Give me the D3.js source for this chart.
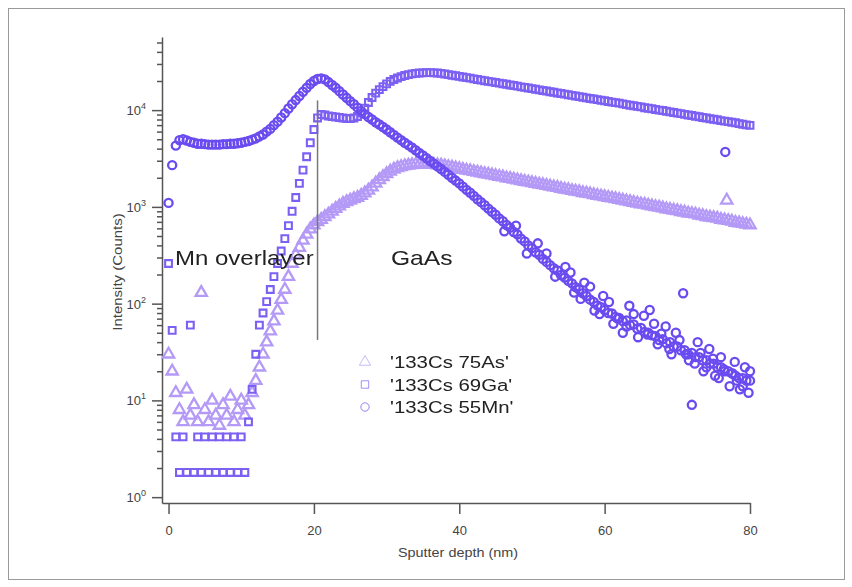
<!DOCTYPE html>
<html>
<head>
<meta charset="utf-8">
<title>SIMS depth profile</title>
<style>
  body { margin: 0; background: #fff; }
  text { font-family: "Liberation Sans", Arial, sans-serif; }
</style>
</head>
<body>
<div id="container"></div>
<script src="https://cdn.jsdelivr.net/npm/d3@7/dist/d3.min.js"></script>
<script>
//******* Data, one value every depthStep nm starting at 0 *******
var depthStep = 0.5;

var as75 = [
  30, 20, 12, 8, 6, 13, 7, 9, 6, 130,
  8, 6, 10, 7, 5.5, 9, 7, 11, 6, 8,
  10, 7, 9, 12, 16, 22, 30, 40, 52, 66,
  85, 110, 140, 190, 260, 320, 380, 450, 520, 590,
  650, 700, 740, 790, 840, 900, 960, 1020, 1080, 1130,
  1170, 1210, 1250, 1310, 1390, 1480, 1600, 1750, 1900, 2050,
  2200, 2330, 2440, 2530, 2600, 2650, 2690, 2720, 2740, 2750,
  2750, 2750, 2740, 2730, 2710, 2690, 2650, 2600, 2560, 2520,
  2480, 2430, 2390, 2360, 2310, 2280, 2240, 2200, 2170, 2130,
  2090, 2060, 2030, 1990, 1960, 1930, 1890, 1860, 1830, 1800,
  1770, 1740, 1710, 1690, 1660, 1630, 1600, 1580, 1550, 1520,
  1500, 1470, 1450, 1430, 1400, 1380, 1360, 1330, 1310, 1290,
  1270, 1250, 1230, 1210, 1190, 1170, 1150, 1130, 1110, 1090,
  1070, 1060, 1040, 1020, 1000, 990, 970, 950, 940, 920,
  910, 890, 880, 860, 850, 840, 820, 810, 790, 780,
  770, 760, 740, 730, 720, 710, 690, 680, 670, 660, 650
];

var ga69 = [
  260, 53, 4.2, 1.8, 4.2, 1.8, 60, 1.8, 4.2, 1.8,
  4.2, 1.8, 4.2, 1.8, 4.2, 1.8, 4.2, 1.8, 4.2, 1.8,
  4.2, 1.8, 6, 13, 30, 60, 80, 105, 140, 190,
  260, 350, 470, 640, 900, 1250, 1750, 2400, 3300, 4600,
  6300, 8300, 9000, 8900, 8700, 8600, 8500, 8400, 8300, 8200,
  8200, 8300, 8600, 9300, 10500, 12000, 13500, 15000, 16300, 17500,
  18700, 19800, 20700, 21500, 22200, 22800, 23300, 23700, 24000, 24200,
  24300, 24400, 24400, 24300, 24200, 24000, 23650, 23300, 22950, 22650,
  22300, 22000, 21650, 21400, 21050, 20750, 20450, 20150, 19850, 19600,
  19300, 19000, 18750, 18500, 18200, 17950, 17700, 17400, 17200, 16950,
  16700, 16450, 16200, 15950, 15750, 15500, 15300, 15050, 14850, 14650,
  14400, 14200, 14000, 13800, 13600, 13400, 13200, 13050, 12850, 12650,
  12500, 12300, 12100, 11950, 11800, 11600, 11400, 11250, 11100, 10950,
  10800, 10600, 10450, 10350, 10150, 10000, 9900, 9750, 9600, 9450,
  9300, 9200, 9050, 8900, 8800, 8650, 8550, 8400, 8300, 8150,
  8050, 7950, 7800, 7700, 7600, 7500, 7400, 7250, 7150, 7050, 6950
];

var mn55 = [
  1100, 2700, 4300, 4900, 5000, 4850, 4700, 4600, 4500, 4500,
  4450, 4400, 4400, 4400, 4400, 4450, 4450, 4500, 4500, 4550,
  4600, 4700, 4800, 4950, 5100, 5350, 5600, 6000, 6400, 7000,
  7600, 8400, 9300, 10400, 11500, 12700, 14000, 15500, 17000, 18600,
  20000, 21000, 21300, 20800, 19500, 18200, 17000, 15700, 14500, 13400,
  12400, 11500, 10600, 9800, 9100, 8500, 8000, 7500, 7100, 6700,
  6300, 5900, 5550, 5200, 4900, 4600, 4350, 4100, 3850, 3600,
  3400, 3180, 2980, 2800, 2620, 2460, 2300, 2150, 2000, 1870,
  1750, 1620, 1500, 1400, 1300, 1200, 1120, 1040, 960, 890,
  830, 760, 710, 650, 610, 550, 520, 470, 440, 400,
  375, 340, 320, 290, 270, 250, 232, 220, 198, 186,
  172, 162, 148, 140, 128, 120, 110, 104, 96, 92,
  86, 80, 79, 73, 71, 66, 67, 60, 61, 55,
  56, 51, 50, 47, 46, 42, 43, 39, 40, 36,
  36, 33, 33, 30, 31, 28, 28, 26, 26, 24,
  24, 22, 22, 20, 20, 19, 18, 17, 17, 16, 16
];

// scattered points off the main band, [depth, counts]
var as75Extra = [[76.8, 1170]];
var mn55Extra = [
  [46.2, 560], [47.8, 640], [49.3, 330], [50.8, 420], [52.0, 330], [53.2, 190],
  [54.6, 240], [55.8, 130], [57.2, 165], [58.6, 85], [59.8, 120], [61.2, 62],
  [62.5, 50], [63.4, 95], [64.6, 45], [65.4, 75], [66.2, 86], [67.3, 38],
  [68.4, 58], [69.2, 30], [69.8, 50], [70.8, 128], [71.6, 26], [72.0, 9],
  [72.8, 40], [73.6, 20], [74.4, 34], [75.2, 18], [76.0, 28], [76.6, 3700],
  [77.2, 14], [77.9, 25], [78.6, 13], [79.3, 22], [79.8, 12],
  [55.3, 210], [56.7, 112], [58.0, 150], [59.3, 78], [60.6, 104], [61.8, 70],
  [63.0, 58], [64.0, 78], [65.9, 48], [66.8, 62], [67.8, 49], [68.9, 34],
  [70.3, 42], [71.2, 30], [72.4, 24], [73.2, 31], [74.0, 22], [74.9, 27],
  [75.7, 17], [76.4, 21], [77.6, 19], [78.2, 16], [79.0, 14], [80.0, 20]
];

var seriesNames = ["'133Cs 75As'", "'133Cs 69Ga'", "'133Cs 55Mn'"];
var xTicks = [0, 20, 40, 60, 80];
var yExponents = [0, 1, 2, 3, 4];
var layerLabels = ["Mn overlayer", "GaAs"];
// interface marker: depth and the counts range it spans
var interfaceDepth = 20.5;
var interfaceRange = [42, 12600];

//******* Layout *******
var width = 852, height = 587;
var plot = { left: 162, right: 750, top: 37, bottom: 503 };
var colors = ["#b49af6", "#7c60f2", "#6a4cf0"];
var axisColor = "#555";

var svg = d3.select("#container")
  .append("svg")
  .attr("width", width)
  .attr("height", height);

// slight softening, the source figure is a blurry scan
svg.append("defs")
  .append("filter")
  .attr("id", "soft")
  .append("feGaussianBlur")
  .attr("stdDeviation", 0.45);

svg.append("rect")
  .attr("x", 8.5).attr("y", 8.5)
  .attr("width", 836).attr("height", 571)
  .attr("fill", "none")
  .attr("stroke", "#9a9a9a");

var x = d3.scaleLinear()
  .domain([-0.9, 80])
  .range([plot.left, plot.right]);
var y = d3.scaleLog()
  .domain([0.87, 57000])
  .range([plot.bottom, plot.top]);

// text in the figure is drawn a bit wider than normal
function wideText(parent, tx, ty, str, size, anchor, rot) {
  return parent.append("text")
    .attr("transform", `translate(${tx},${ty}) rotate(${rot || 0}) scale(1.2,1)`)
    .attr("text-anchor", anchor || "start")
    .style("font-size", size + "px")
    .text(str);
}

//******* Axes *******
var majorY = yExponents.map(function(e) { return Math.pow(10, e); });
var minorY = [];
yExponents.forEach(function(e) {
  for (var m = 2; m <= 9; m++) {
    var v = m * Math.pow(10, e);
    if (v < y.domain()[1]) minorY.push(v);
  }
});

var yAxis = svg.append("g")
  .attr("transform", `translate(${plot.left},0)`)
  .call(d3.axisLeft(y).tickValues(majorY).tickSize(10).tickSizeOuter(0).tickFormat(""));
svg.append("g")
  .attr("transform", `translate(${plot.left},0)`)
  .call(d3.axisLeft(y).tickValues(minorY).tickSize(5).tickFormat(""))
  .select(".domain").remove();

var xAxis = svg.append("g")
  .attr("transform", `translate(0,${plot.bottom})`)
  .call(d3.axisBottom(x).tickValues(xTicks).tickSize(11).tickSizeOuter(0).tickPadding(12));

svg.selectAll(".domain, .tick line")
  .attr("stroke", axisColor)
  .attr("stroke-width", 1.5);
xAxis.selectAll("text")
  .style("font-size", "13px")
  .attr("fill", "#444");

// y labels as 10 with a raised exponent
majorY.forEach(function(v, i) {
  var t = svg.append("text")
    .attr("x", plot.left - 16)
    .attr("y", y(v) + 5)
    .attr("text-anchor", "end")
    .attr("fill", "#444")
    .style("font-size", "13px");
  t.append("tspan").text("10");
  t.append("tspan")
    .attr("dy", -6)
    .style("font-size", "9px")
    .text(yExponents[i]);
});

wideText(svg, 122, 272, "Intensity (Counts)", 12.5, "middle", -90).attr("fill", "#444");
wideText(svg, 458, 557, "Sputter depth (nm)", 12, "middle").attr("fill", "#444");

//******* Data markers *******
function drawSeries(values, extra, type, size, color, sw) {
  var pts = values.map(function(v, i) { return [i * depthStep, v]; }).concat(extra);
  svg.append("g")
    .attr("filter", "url(#soft)")
    .selectAll("path")
    .data(pts)
    .enter()
    .append("path")
    .attr("transform", function(d) { return `translate(${x(d[0])},${y(d[1])})`; })
    .attr("d", d3.symbol().type(type).size(size))
    .attr("fill", "none")
    .attr("stroke", color)
    .attr("stroke-width", sw);
}
drawSeries(as75, as75Extra, d3.symbolTriangle, 55, colors[0], 2.3);
drawSeries(ga69, [], d3.symbolSquare, 46, colors[1], 2.1);
drawSeries(mn55, mn55Extra, d3.symbolCircle, 52, colors[2], 2.3);

//******* Interface line and layer labels *******
svg.append("line")
  .attr("x1", x(interfaceDepth)).attr("x2", x(interfaceDepth))
  .attr("y1", y(interfaceRange[1])).attr("y2", y(interfaceRange[0]))
  .attr("stroke", "#777")
  .attr("stroke-width", 1.5);

wideText(svg, 175, 265, layerLabels[0], 20, "start").attr("fill", "#222");
wideText(svg, 391, 265, layerLabels[1], 20.5, "start").attr("fill", "#222");

//******* Legend *******
var legendTypes = [d3.symbolTriangle, d3.symbolSquare, d3.symbolCircle];
seriesNames.forEach(function(name, i) {
  var ly = 362 + i * 22.5;
  svg.append("path")
    .attr("transform", `translate(365,${ly})`)
    .attr("d", d3.symbol().type(legendTypes[i]).size(55))
    .attr("fill", "none")
    .attr("stroke", colors[i])
    .attr("stroke-opacity", 0.7)
    .attr("stroke-width", 1);
  wideText(svg, 390, ly + 6, name, 17, "start").attr("fill", "#222");
});
</script>
</body>
</html>
